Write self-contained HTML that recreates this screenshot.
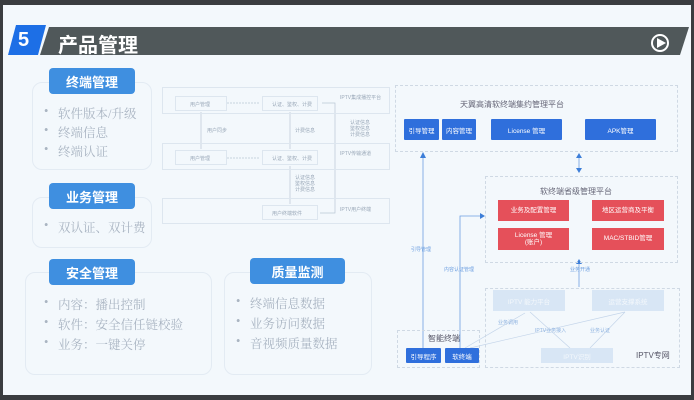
<!DOCTYPE html>
<html><head><meta charset="utf-8"><style>
*{margin:0;padding:0;box-sizing:border-box}
body{width:694px;height:400px;overflow:hidden;background:#3a3d40;position:relative;font-family:"Liberation Sans","Noto Sans CJK SC",sans-serif}
.a{position:absolute}
.slide{left:3px;top:5px;width:688px;height:390px;background:#f3f8fc}
.btn{position:absolute;background:#3f8fe0;color:#fff;font-weight:bold;font-size:13px;text-align:center;border-radius:4px;display:flex;align-items:center;justify-content:center}
.card{position:absolute;border:1px solid #e3ebf3;border-radius:10px}
.li{position:absolute;font-family:"Liberation Serif","Noto Serif CJK SC",serif;font-size:12.5px;color:#a9b4c2;white-space:nowrap}
.li:before{content:"•";position:absolute;left:-14px;color:#aab5c2}
.bx{position:absolute;border:1px solid #dde6ef}
.sm{position:absolute;font-size:5px;color:#9aa8b8;white-space:nowrap}
.bb{position:absolute;background:#2f6fdc;color:#fff;font-size:6.5px;display:flex;align-items:center;justify-content:center;border-radius:1px}
.rb{position:absolute;background:#e5505a;color:#fff;font-size:6.5px;display:flex;align-items:center;justify-content:center;text-align:center;line-height:1.1}
.pb{position:absolute;background:#d8e6f5;color:#f4f8fc;font-size:6.5px;display:flex;align-items:center;justify-content:center}
.dash{position:absolute;border:1px dashed #cfd9e4}
</style></head><body>
<div class="a slide"></div>
<svg class="a" style="left:0;top:0" width="694" height="400">
<polygon points="16,25 46,25 38,55 8,55" fill="#1d6fe6"/>
<polygon points="49,27 689,27 680,55 40,55" fill="#50585a"/>
<circle cx="660" cy="43" r="8" fill="none" stroke="#fff" stroke-width="2"/>
<polygon points="657,38 666,43 657,48" fill="#fff"/>
<g stroke="#b9c6d4" stroke-width="0.7" fill="none">
<line x1="201" y1="112" x2="201" y2="149"/>
<line x1="290" y1="112" x2="290" y2="149"/>
<line x1="290" y1="166" x2="290" y2="204"/>
<line x1="227" y1="103" x2="260" y2="103" stroke-dasharray="2,1"/>
<line x1="227" y1="158" x2="260" y2="158" stroke-dasharray="2,1"/>
<polyline points="322,103 335,103 335,213 320,213"/>
</g>
<g stroke="#6d9fe0" stroke-width="0.8" fill="none">
<line x1="423" y1="348" x2="423" y2="156"/>
<polyline points="460,348 460,216 482,216"/>
<line x1="579" y1="156" x2="579" y2="170"/>
<line x1="579" y1="262" x2="579" y2="287"/>
</g>
<g stroke="#c4d5ea" stroke-width="0.7" fill="none">
<line x1="465" y1="348" x2="525" y2="313"/>
<line x1="470" y1="348" x2="625" y2="312"/>
<line x1="530" y1="312" x2="570" y2="348"/>
<line x1="625" y1="312" x2="590" y2="348"/>
</g>
<g fill="#3d7ed8">
<polygon points="423,152 420,158 426,158"/><polygon points="485,216 480,213 480,219"/>
<polygon points="579,153 576,158 582,158"/><polygon points="579,173 576,168 582,168"/>
<polygon points="579,259 576,264 582,264"/>
</g>
</svg>
<div class="a" style="left:58px;top:29px;color:#fff;font-weight:bold;font-size:20px">产品管理</div>
<div class="a" style="left:18px;top:29px;color:#fff;font-weight:bold;font-size:20px">5</div>

<div class="card" style="left:32px;top:82px;width:120px;height:88px"></div>
<div class="btn" style="left:49px;top:68px;width:86px;height:26px">终端管理</div>
<div class="li" style="left:58px;top:104px">软件版本/升级</div>
<div class="li" style="left:58px;top:123px">终端信息</div>
<div class="li" style="left:58px;top:142px">终端认证</div>

<div class="card" style="left:32px;top:197px;width:120px;height:51px"></div>
<div class="btn" style="left:49px;top:183px;width:86px;height:26px">业务管理</div>
<div class="li" style="left:58px;top:218px">双认证、双计费</div>

<div class="card" style="left:25px;top:272px;width:187px;height:103px"></div>
<div class="btn" style="left:49px;top:259px;width:86px;height:26px">安全管理</div>
<div class="li" style="left:58px;top:295px">内容：播出控制</div>
<div class="li" style="left:58px;top:315px">软件：安全信任链校验</div>
<div class="li" style="left:58px;top:335px">业务：一键关停</div>

<div class="card" style="left:224px;top:272px;width:148px;height:103px"></div>
<div class="btn" style="left:250px;top:258px;width:95px;height:26px">质量监测</div>
<div class="li" style="left:250px;top:294px">终端信息数据</div>
<div class="li" style="left:250px;top:314px">业务访问数据</div>
<div class="li" style="left:250px;top:334px">音视频质量数据</div>

<div class="bx" style="left:162px;top:87px;width:228px;height:27px"></div>
<div class="bx" style="left:162px;top:143px;width:228px;height:27px"></div>
<div class="bx" style="left:162px;top:198px;width:228px;height:26px"></div>
<div class="bx" style="left:175px;top:96px;width:52px;height:15px"></div>
<div class="bx" style="left:262px;top:96px;width:56px;height:15px"></div>
<div class="bx" style="left:175px;top:150px;width:52px;height:15px"></div>
<div class="bx" style="left:262px;top:150px;width:56px;height:15px"></div>
<div class="bx" style="left:262px;top:205px;width:56px;height:15px"></div>
<div class="sm" style="left:190px;top:101px">用户管理</div>
<div class="sm" style="left:272px;top:101px">认证、鉴权、计费</div>
<div class="sm" style="left:190px;top:155px">用户管理</div>
<div class="sm" style="left:272px;top:155px">认证、鉴权、计费</div>
<div class="sm" style="left:272px;top:210px">用户终端软件</div>
<div class="sm" style="left:207px;top:127px">用户同步</div>
<div class="sm" style="left:295px;top:127px">计费信息</div>
<div class="sm" style="left:340px;top:94px">IPTV集成播控平台</div>
<div class="sm" style="left:340px;top:150px">IPTV传输通道</div>
<div class="sm" style="left:340px;top:206px">IPTV用户终端</div>
<div class="sm" style="left:350px;top:120px;line-height:6px">认证信息<br>鉴权信息<br>计费信息</div>
<div class="sm" style="left:295px;top:175px;line-height:6px">认证信息<br>鉴权信息<br>计费信息</div>

<div class="dash" style="left:395px;top:85px;width:283px;height:67px"></div>
<div class="a" style="left:460px;top:99px;font-size:8px;color:#667">天翼高清软终端集约管理平台</div>
<div class="bb" style="left:404px;top:119px;width:35px;height:21px">引导管理</div>
<div class="bb" style="left:442px;top:119px;width:34px;height:21px">内容管理</div>
<div class="bb" style="left:491px;top:119px;width:71px;height:21px">License 管理</div>
<div class="bb" style="left:585px;top:119px;width:71px;height:21px">APK管理</div>

<div class="dash" style="left:485px;top:176px;width:193px;height:87px"></div>
<div class="a" style="left:540px;top:186px;font-size:8px;color:#667">软终端省级管理平台</div>
<div class="rb" style="left:498px;top:200px;width:71px;height:21px">业务及配置管理</div>
<div class="rb" style="left:592px;top:200px;width:72px;height:21px">地区运营商及平衡</div>
<div class="rb" style="left:498px;top:228px;width:71px;height:22px">License 管理<br>(账户)</div>
<div class="rb" style="left:592px;top:228px;width:72px;height:22px">MAC/STBID管理</div>

<div class="dash" style="left:485px;top:288px;width:195px;height:80px"></div>
<div class="pb" style="left:493px;top:290px;width:72px;height:21px">IPTV 能力平台</div>
<div class="pb" style="left:592px;top:290px;width:72px;height:21px">运营支撑系统</div>
<div class="pb" style="left:541px;top:348px;width:72px;height:15px">IPTV识别</div>
<div class="a" style="left:636px;top:350px;font-size:8px;color:#556">IPTV专网</div>

<div class="dash" style="left:397px;top:330px;width:83px;height:38px"></div>
<div class="a" style="left:428px;top:333px;font-size:8px;color:#556">智能终端</div>
<div class="bb" style="left:406px;top:348px;width:35px;height:15px">引导程序</div>
<div class="bb" style="left:445px;top:348px;width:34px;height:15px">软终端</div>
<div class="sm" style="left:411px;top:246px;color:#6d9fe0">引导管理</div>
<div class="sm" style="left:444px;top:266px;color:#6d9fe0">内容认证管理</div>
<div class="sm" style="left:570px;top:266px;color:#6d9fe0">业务开通</div>
<div class="sm" style="left:498px;top:319px;color:#8fb3e0">业务调用</div>
<div class="sm" style="left:535px;top:327px;color:#8fb3e0">IPTV业务接入</div>
<div class="sm" style="left:590px;top:327px;color:#8fb3e0">业务认证</div>
</body></html>
